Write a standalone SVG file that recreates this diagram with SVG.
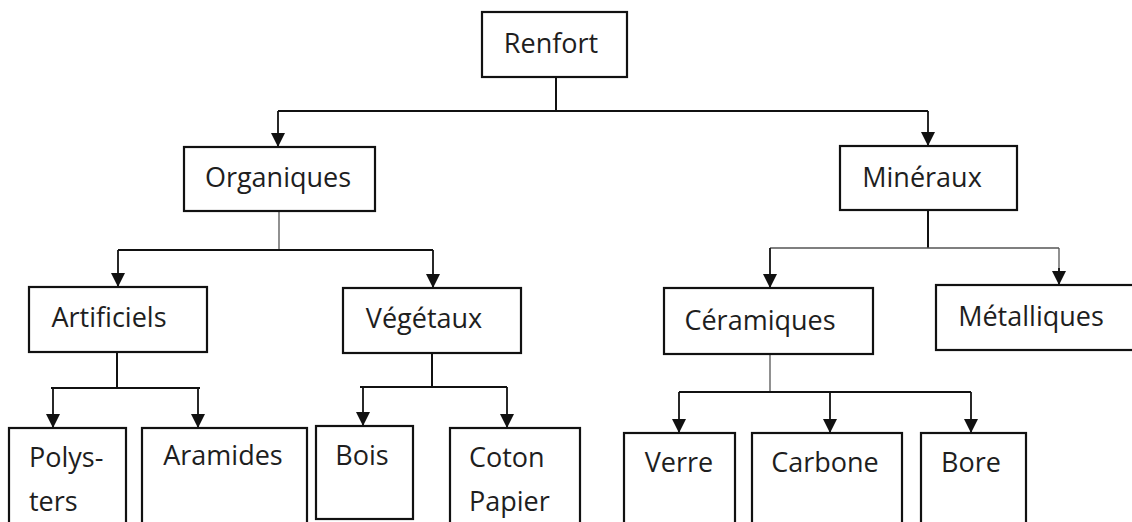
<svg xmlns="http://www.w3.org/2000/svg" width="1132" height="522" viewBox="0 0 1132 522">
  <style>
    .box { fill: #fff; stroke: #111; stroke-width: 2.2; }
    .lbl { font-family: "Open Sans", "Noto Sans", "Liberation Sans", sans-serif; font-size: 27px; fill: #1e1e1e; }
    .mid { text-anchor: middle; }
    .ln { fill: none; stroke: #111; stroke-width: 2; }
    .thin { fill: none; stroke: #555; stroke-width: 1.3; }
    .arr { fill: none; stroke: #111; stroke-width: 1.8; marker-end: url(#ah); }
  </style>
  <defs>
    <marker id="ah" markerUnits="userSpaceOnUse" markerWidth="14" markerHeight="14" viewBox="0 0 14 14" refX="14" refY="7" orient="auto">
      <path d="M0 0 L14 7 L0 14 Z" fill="#111"/>
    </marker>
  </defs>
  <rect width="1132" height="522" fill="#fff"/>

  <g id="connectors">
    <path class="ln" d="M556 77 V111 M278 111 H928"/>
    <path class="arr" d="M278 111 V147"/>
    <path class="arr" d="M928 111 V146"/>
    <path class="thin" d="M279 211 V250"/>
    <path class="ln" d="M118 250 H433"/>
    <path class="arr" d="M118 250 V287"/>
    <path class="arr" d="M433 250 V288"/>
    <path class="ln" d="M928 210 V248"/>
    <path class="thin" d="M770 248 H1059"/>
    <path class="arr" d="M770 248 V288"/>
    <path class="thin" d="M1059 248 V272"/>
    <path class="arr" d="M1059 268 V285"/>
    <path class="ln" d="M117 352 V388 M51 388 H200"/>
    <path class="arr" d="M53 388 V428"/>
    <path class="arr" d="M198 388 V428"/>
    <path class="ln" d="M432 353 V387 M360 387 H507"/>
    <path class="arr" d="M363 387 V426"/>
    <path class="arr" d="M507 387 V428"/>
    <path class="thin" d="M770 354 V392"/>
    <path class="ln" d="M679 392 H971"/>
    <path class="arr" d="M679 392 V433"/>
    <path class="arr" d="M830 392 V433"/>
    <path class="arr" d="M971 392 V433"/>
  </g>

  <g id="renfort"><rect class="box" x="482" y="12" width="145" height="65"/><text class="lbl mid" x="551" y="53">Renfort</text></g>
  <g id="organiques"><rect class="box" x="184" y="147" width="191" height="64"/><text class="lbl mid" x="278" y="187">Organiques</text></g>
  <g id="mineraux"><rect class="box" x="840" y="146" width="177" height="64"/><text class="lbl mid" x="922" y="187">Minéraux</text></g>
  <g id="artificiels"><rect class="box" x="29" y="287" width="178" height="65"/><text class="lbl mid" x="109" y="327">Artificiels</text></g>
  <g id="vegetaux"><rect class="box" x="343" y="288" width="178" height="65"/><text class="lbl mid" x="424" y="328">Végétaux</text></g>
  <g id="ceramiques"><rect class="box" x="664" y="288" width="209" height="66"/><text class="lbl mid" x="760" y="330">Céramiques</text></g>
  <g id="metalliques"><rect class="box" x="936" y="285" width="210" height="65"/><text class="lbl mid" x="1031" y="326">Métalliques</text></g>
  <g id="polysters"><rect class="box" x="9" y="428" width="117" height="120"/><text class="lbl" x="29" y="467">Polys-</text><text class="lbl" x="29" y="511">ters</text></g>
  <g id="aramides"><rect class="box" x="142" y="428" width="165" height="120"/><text class="lbl mid" x="223" y="465">Aramides</text></g>
  <g id="bois"><rect class="box" x="316" y="426" width="97" height="93"/><text class="lbl mid" x="362" y="465">Bois</text></g>
  <g id="coton"><rect class="box" x="450" y="428" width="130" height="120"/><text class="lbl" x="469" y="467">Coton</text><text class="lbl" x="469" y="511">Papier</text></g>
  <g id="verre"><rect class="box" x="624" y="433" width="111" height="120"/><text class="lbl mid" x="679" y="472">Verre</text></g>
  <g id="carbone"><rect class="box" x="752" y="433" width="150" height="120"/><text class="lbl mid" x="825" y="472">Carbone</text></g>
  <g id="bore"><rect class="box" x="921" y="433" width="105" height="120"/><text class="lbl mid" x="971" y="472">Bore</text></g>
</svg>
